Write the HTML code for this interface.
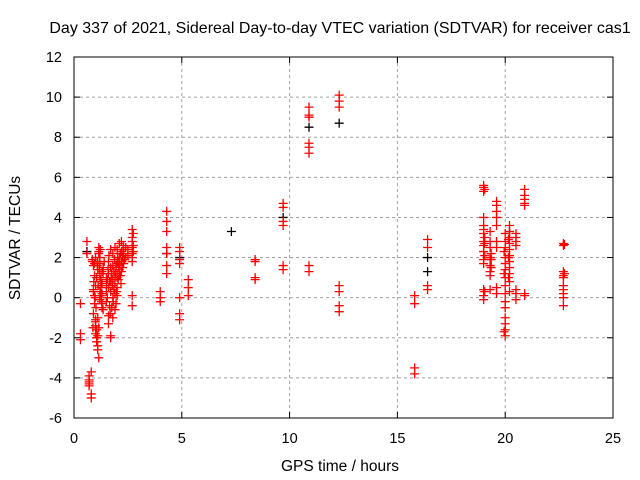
<!DOCTYPE html>
<html><head><meta charset="utf-8"><style>
body{margin:0;background:#fff}
svg{display:block;font-family:"Liberation Sans",sans-serif}
</style></head><body>
<svg id="chart" width="640" height="480">
<text x="340" y="33" text-anchor="middle" font-size="16">Day 337 of 2021, Sidereal Day-to-day VTEC variation (SDTVAR) for receiver cas1</text>
<text x="340" y="471" text-anchor="middle" font-size="15.5">GPS time / hours</text>
<text transform="translate(20,238) rotate(-90)" text-anchor="middle" font-size="15.5">SDTVAR / TECUs</text>
<g id="grid"></g><g id="ticks"></g><g id="blk"></g><g id="red"></g>
<rect x="74" y="57" width="539" height="361" fill="none" stroke="#000"/>
</svg>
<script>
const xTicks=[0,5,10,15,20,25];
const yTicks=[-6,-4,-2,0,2,4,6,8,10,12];
const redX=[0.3,0.3,0.3,0.6,0.6,0.7,0.7,0.7,0.7,0.7,0.8,0.8,0.8,
0.85,0.9,0.9,0.95,0.95,1.0,1.0,1.0,1.05,1.05,1.1,1.1,1.1,1.15,1.15,1.2,1.2,1.2,1.25,1.25,1.3,1.3,1.35,1.35,1.4,0.9,1.0,1.05,1.1,1.15,1.2,1.25,1.3,0.95,1.0,1.1,1.2,1.3,1.15,1.05,
0.85,0.9,0.95,1.0,1.05,1.1,1.15,1.2,1.25,1.3,1.35,0.88,0.98,1.08,1.18,1.28,0.92,1.02,1.12,1.22,
1.5,1.5,1.5,1.6,1.6,1.6,1.7,1.7,1.7,1.7,1.8,1.8,1.8,1.8,1.9,1.9,1.9,2.0,2.0,2.0,2.0,2.1,2.1,2.1,2.2,2.2,2.2,2.3,2.3,2.4,2.4,2.5,2.5,1.75,1.65,1.85,1.95,2.05,2.15,1.55,1.6,1.7,2.25,2.35,1.9,2.0,
1.5,1.55,1.6,1.65,1.7,1.75,1.8,1.85,1.9,1.95,2.0,2.05,2.1,2.15,2.2,2.25,2.3,1.58,1.68,1.78,1.88,1.98,2.08,2.18,2.28,1.62,1.72,1.82,1.92,2.02,2.12,
2.7,2.7,2.7,2.7,2.7,2.7,2.7,2.7,2.7,2.75,2.75,2.75,
4.0,4.0,4.0,4.3,4.3,4.3,4.3,4.3,4.3,4.3,4.9,4.9,4.9,4.9,4.9,4.9,4.9,5.3,5.3,5.3,
8.4,8.4,8.4,8.4,9.7,9.7,9.7,9.7,9.7,9.7,10.9,10.9,10.9,10.9,10.9,10.9,10.9,10.9,12.3,12.3,12.3,12.3,12.3,12.3,12.3,
15.8,15.8,15.8,15.8,16.4,16.4,16.4,16.4,
19.0,19.0,19.0,19.0,19.0,19.0,19.0,19.0,19.0,19.0,19.0,19.0,19.0,19.0,19.0,19.05,19.05,19.05,19.05,19.05,
19.3,19.3,19.3,19.3,19.3,19.3,19.3,19.3,19.35,19.35,19.35,19.6,19.6,19.6,19.6,19.6,19.6,19.6,19.6,19.6,
20.0,20.0,20.0,20.0,20.0,20.0,20.0,20.0,20.0,20.0,20.0,20.0,20.0,20.0,20.0,19.95,19.95,19.95,
20.2,20.2,20.2,20.2,20.2,20.2,20.2,20.2,20.2,20.2,20.2,20.15,20.15,20.15,20.5,20.5,20.5,20.5,20.5,20.5,20.5,
20.9,20.9,20.9,20.9,20.9,20.9,20.9,22.7,22.7,22.7,22.7,22.7,22.7,22.7,22.7,22.7,22.7,22.75,22.75];
const redY=[-0.3,-1.8,-2.1,2.8,2.2,-4.1,-4.3,-4.2,-4.4,-3.9,-4.8,-5.0,-3.7,
1.9,1.6,0.4,0.1,-0.3,-1.1,-1.4,-1.8,-2.0,-2.2,-2.4,-2.6,-1.9,2.5,2.3,2.0,1.7,1.2,0.8,0.5,0.2,-0.3,-0.6,1.5,1.8,-0.8,0.6,1.0,-1.0,-3.0,-0.1,0.9,1.3,1.1,2.0,1.4,0.3,-0.5,-1.5,-1.6,
1.8,0.3,1.7,-1.2,-2.0,1.8,2.2,1.0,0.1,0.7,1.2,-1.5,0.0,1.6,1.4,-0.2,0.8,-0.5,0.6,2.4,
1.0,0.6,-0.2,1.8,1.2,-0.9,-1.9,-2.0,0.3,1.5,2.2,1.6,0.9,-1.0,2.5,1.0,0.2,2.4,1.7,1.2,0.5,2.7,2.0,1.4,2.8,2.3,1.8,2.6,2.2,2.5,2.0,2.4,2.1,-0.5,0.8,0.4,-0.3,0.9,1.1,0.0,-1.3,2.4,1.5,1.9,-0.6,0.1,
0.3,0.9,0.5,-0.4,0.8,1.2,0.0,1.3,0.7,1.6,1.0,1.8,1.1,2.2,1.3,2.0,1.7,1.4,-0.8,0.6,1.9,0.3,1.5,0.7,2.4,2.1,1.0,-0.2,1.2,2.0,1.6,
3.4,3.0,2.8,2.5,2.2,2.0,1.8,0.1,-0.4,2.6,2.3,3.2,
0.3,0.0,-0.2,4.3,3.8,3.3,2.5,2.2,1.6,1.2,2.5,2.3,1.9,1.7,0.0,-0.8,-1.1,0.9,0.5,0.1,
1.9,1.8,1.0,0.9,4.7,4.5,3.8,3.6,1.6,1.4,9.5,9.1,9.0,7.7,7.5,7.2,1.6,1.3,10.1,9.8,9.5,0.6,0.3,-0.4,-0.7,
0.1,-0.3,-3.5,-3.8,2.9,2.5,0.6,0.4,
5.6,5.5,5.3,4.0,3.6,3.4,3.2,2.8,2.6,2.3,1.9,1.7,0.4,0.1,-0.1,3.0,2.7,2.1,0.3,5.4,
3.3,2.8,2.5,2.0,1.6,1.3,1.1,0.4,1.9,1.5,2.2,4.8,4.6,4.3,4.0,3.6,2.8,2.5,0.5,0.2,
3.2,2.8,2.5,2.0,1.7,1.4,1.0,0.6,0.2,-0.2,-0.5,-1.0,-1.3,-1.6,-1.9,2.3,1.2,-1.7,
3.6,3.3,3.0,2.7,2.4,2.1,1.8,1.5,1.2,0.8,0.3,2.9,2.0,1.0,3.2,3.0,2.8,2.6,0.4,0.2,-0.1,
5.4,5.1,4.9,4.7,4.6,0.2,0.1,2.7,2.6,1.3,1.1,1.0,0.6,0.4,0.2,0.0,-0.4,2.65,1.2];
const blackX=[0.6,4.3,4.9,7.3,9.7,10.9,12.3,16.4,16.4,20.2];
const blackY=[2.3,2.2,2.0,3.3,4.0,8.5,8.7,2.0,1.3,3.3];

const L=74,R=613,T=57,B=418;
const sx=v=>L+(v-0)/(25-0)*(R-L);
const sy=v=>B-(v+6)/18*(B-T);
const NS='http://www.w3.org/2000/svg';
function mk(tag,attrs,parent){const e=document.createElementNS(NS,tag);for(const k in attrs)e.setAttribute(k,attrs[k]);parent.appendChild(e);return e;}
const grid=document.getElementById('grid'),ticks=document.getElementById('ticks');
xTicks.forEach(t=>{
  const x=sx(t);
  if(t>0&&t<25){const g=mk('line',{x1:x,x2:x,y1:T,y2:B,stroke:'#a0a0a0','stroke-dasharray':'3,3'},grid);
  
  }
  mk('line',{x1:x,x2:x,y1:B,y2:B-6,stroke:'#000'},ticks);
  mk('line',{x1:x,x2:x,y1:T,y2:T+6,stroke:'#000'},ticks);
  const tx=mk('text',{x:x,y:B+25,'text-anchor':'middle','font-size':'14.5'},ticks);
  tx.textContent=t;
  
  
});
yTicks.forEach(t=>{
  const y=sy(t);
  if(t>-6&&t<12){const g=mk('line',{x1:L,x2:R,y1:y,y2:y,stroke:'#a0a0a0','stroke-dasharray':'3,3'},grid);
  
  }
  mk('line',{x1:L,x2:L+6,y1:y,y2:y,stroke:'#000'},ticks);
  mk('line',{x1:R,x2:R-6,y1:y,y2:y,stroke:'#000'},ticks);
  const tx=mk('text',{x:L-12,y:y+5,'text-anchor':'end','font-size':'14.5'},ticks);
  tx.textContent=t;
  
  
});
function cross(g,x,y,col,name){
  const X=sx(x),Y=sy(y);
  const p=mk('path',{d:`M${X-4.5},${Y}H${X+4.5}M${X},${Y-4.5}V${Y+4.5}`,stroke:col,'stroke-width':1.3,fill:'none'},g);
  
  
}
const blk=document.getElementById('blk'),red=document.getElementById('red');
blackX.forEach((x,i)=>cross(blk,x,blackY[i],'#000','black-point'));
redX.forEach((x,i)=>cross(red,x,redY[i],'#ff0000','red-point'));
</script>
</body></html>
